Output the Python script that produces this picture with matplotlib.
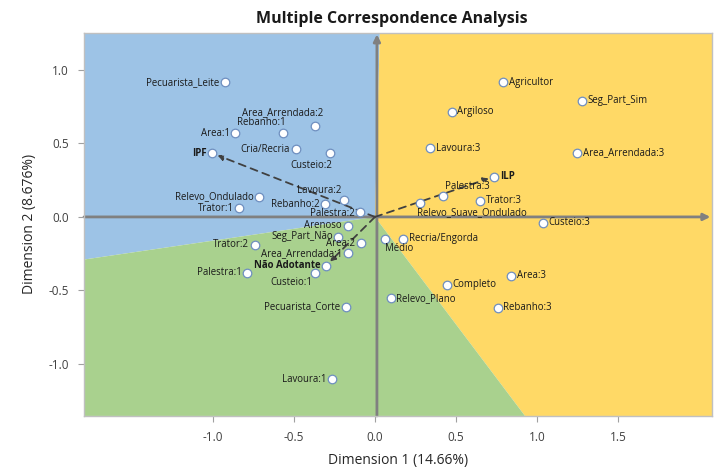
import matplotlib
matplotlib.use("Agg")
import matplotlib.pyplot as plt
from matplotlib.patches import Polygon

plt.rcParams['font.family'] = ['Open Sans', 'DejaVu Sans']

# ---- data ----
labels = ["Pecuarista_Leite", "Area_Arrendada:2", "Rebanho:1", "Area:1", "IPF", "Cria/Recria",
          "Custeio:2", "Relevo_Ondulado", "Trator:1", "Lavoura:2", "Rebanho:2", "Palestra:2",
          "Arenoso", "Seg_Part_Não", "Area:2", "Trator:2", "Area_Arrendada:1", "Não Adotante",
          "Palestra:1", "Custeio:1", "Pecuarista_Corte", "Lavoura:1",
          "Agricultor", "Seg_Part_Sim", "Argiloso", "Lavoura:3", "Area_Arrendada:3", "ILP",
          "Palestra:3", "Trator:3", "Relevo_Suave_Ondulado", "Custeio:3", "Médio",
          "Recria/Engorda", "Area:3", "Completo", "Relevo_Plano", "Rebanho:3"]
dim1 = [-0.926, -0.368, -0.570, -0.862, -1.004, -0.490,
        -0.278, -0.714, -0.838, -0.191, -0.309, -0.093,
        -0.169, -0.226, -0.088, -0.741, -0.165, -0.302,
        -0.788, -0.370, -0.179, -0.267,
        0.792, 1.276, 0.473, 0.342, 1.247, 0.735,
        0.418, 0.648, 0.278, 1.035, 0.062,
        0.175, 0.841, 0.442, 0.097, 0.757]
dim2 = [0.916, 0.617, 0.569, 0.569, 0.433, 0.460,
        0.437, 0.138, 0.059, 0.116, 0.086, 0.036,
        -0.061, -0.134, -0.179, -0.188, -0.247, -0.331,
        -0.379, -0.379, -0.610, -1.104,
        0.916, 0.791, 0.714, 0.467, 0.437, 0.274,
        0.143, 0.111, 0.093, -0.039, -0.152,
        -0.150, -0.401, -0.463, -0.553, -0.617]
groups = ["IPF", "ILP", "Não Adotante"]

x_ticks = [-1.0, -0.5, 0.0, 0.5, 1.0, 1.5]
y_ticks = [-1.0, -0.5, 0.0, 0.5, 1.0]

# label placement (offset in points, alignment)
place = {
    "Area_Arrendada:2": ((6, 6), 'right', 'bottom'),
    "Rebanho:1": ((2, 4), 'right', 'bottom'),
    "Custeio:2": ((2, -5), 'right', 'top'),
    "Lavoura:2": ((-2, 3), 'right', 'bottom'),
    "Custeio:1": ((-2, -3), 'right', 'top'),
    "Palestra:3": ((2, 3), 'left', 'bottom'),
    "Relevo_Suave_Ondulado": ((-2, -3), 'left', 'top'),
    "Médio": ((0, -3), 'left', 'top'),
    "Palestra:2": ((-4, -1), 'right', 'center'),
}

xmin, xmax = -1.796, 2.08
ymin, ymax = -1.354, 1.252

fig = plt.figure(figsize=(7.21, 4.70), dpi=100)
ax = fig.add_axes([0.1165, 0.115, 0.871, 0.815])
ax.set_xlim(xmin, xmax)
ax.set_ylim(ymin, ymax)

blue, yellow, green = '#9DC3E6', '#FFD966', '#A9D18E'
top_pt = (0.03, ymax)
left_pt = (xmin, -0.29)
bot_pt = (0.926, ymin)
ax.add_patch(Polygon([(0, 0), top_pt, (xmin, ymax), left_pt], closed=True, fc=blue, ec='none', zorder=0))
ax.add_patch(Polygon([(0, 0), top_pt, (xmax, ymax), (xmax, ymin), bot_pt], closed=True, fc=yellow, ec='none', zorder=0))
ax.add_patch(Polygon([(0, 0), bot_pt, (xmin, ymin), left_pt], closed=True, fc=green, ec='none', zorder=0))

# axis arrows
ax.annotate('', xy=(xmax - 0.01, 0), xytext=(xmin, 0),
            arrowprops=dict(arrowstyle='-|>', color='#808080', lw=2, mutation_scale=10,
                            shrinkA=0, shrinkB=0), zorder=1)
ax.annotate('', xy=(0.012, ymax - 0.01), xytext=(0.012, ymin),
            arrowprops=dict(arrowstyle='-|>', color='#808080', lw=2, mutation_scale=10,
                            shrinkA=0, shrinkB=0), zorder=1)

# dashed arrows to groups
for g in groups:
    i = labels.index(g)
    ax.annotate('', xy=(dim1[i], dim2[i]), xytext=(0, 0),
                arrowprops=dict(arrowstyle='-|>', color='#404040', lw=1.3, ls=(0, (4, 3)),
                                shrinkA=0, shrinkB=4, mutation_scale=8), zorder=2)

ax.scatter(dim1, dim2, s=38, facecolor='white', edgecolor='#6F8FC0', linewidth=0.9, zorder=3)

for lab, x, y in zip(labels, dim1, dim2):
    bold = lab in groups
    if lab in place:
        off, ha, va = place[lab]
    elif x < 0:
        off, ha, va = (-4, 0), 'right', 'center'
    else:
        off, ha, va = (4, 0), 'left', 'center'
    ax.annotate(lab, (x, y), xytext=off, textcoords='offset points', ha=ha, va=va,
                fontsize=6.9, color='#1A1A1A', fontweight='bold' if bold else 'normal', zorder=4)

ax.set_xticks(x_ticks)
ax.set_yticks(y_ticks)
ax.set_xticklabels([f"{t:.1f}" for t in x_ticks])
ax.set_yticklabels([f"{t:.1f}" for t in y_ticks])
ax.tick_params(direction='out', length=4, color='#A0A0A0', labelsize=8.5, labelcolor='#404040', pad=7)
for s in ax.spines.values():
    s.set_color('#C0C0C0')
    s.set_linewidth(1)

ax.set_xlabel("Dimension 1 (14.66%)", fontsize=10, color='#262626', labelpad=6)
ax.set_ylabel("Dimension 2 (8.676%)", fontsize=10, color='#262626', labelpad=8)
ax.set_title("Multiple Correspondence Analysis", fontsize=11.5, fontweight='bold', color='#1A1A1A',
             pad=7, x=0.49)

fig.savefig("out.png", dpi=100)
